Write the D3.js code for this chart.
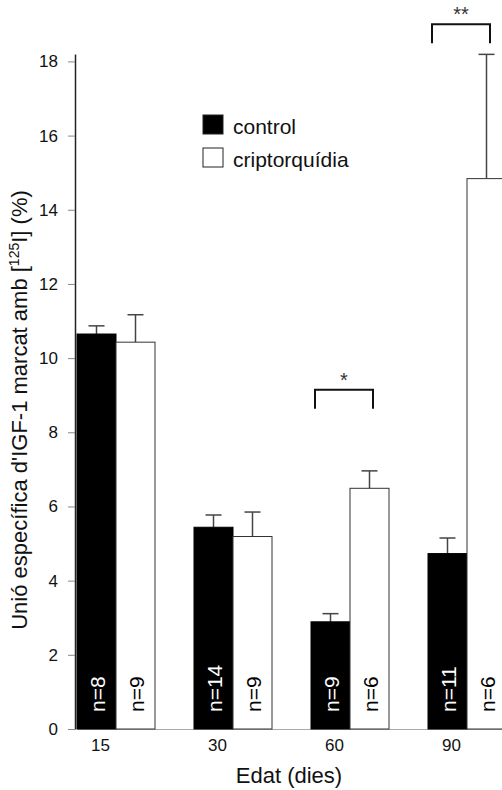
<!doctype html>
<html lang="en">
<head>
<meta charset="utf-8">
<title>IGF-1 binding by age</title>
<script src="https://d3js.org/d3.v7.min.js"></script>
<style>
  body { margin: 0; background: #fff; }
  svg text { font-family: 'Liberation Sans', Arial, Helvetica, sans-serif; }
</style>
</head>
<body>
<script>
// data
var ages = ['15', '30', '60', '90'];
var seriesNames = ['control', 'criptorquídia'];
var controlMeans = [10.65, 5.44, 2.89, 4.73];
var controlErr = [0.22, 0.33, 0.22, 0.42];
var controlN = [8, 14, 9, 11];
var criptMeans = [10.43, 5.19, 6.49, 14.84];
var criptErr = [0.74, 0.66, 0.47, 3.35];
var criptN = [9, 9, 6, 6];
var yTicks = [0, 2, 4, 6, 8, 10, 12, 14, 16, 18];
var sigAges = ['60', '90'];
var sigMarks = ['*', '**'];
var sigLevels = [9.15, 19.0];

var width = 502,
    height = 790;

var svg = d3.select('body')
  .append('svg')
  .attr('width', width)
  .attr('height', height);

var x = d3.scaleBand().domain(ages).range([77, 506]).paddingInner(1 / 3).paddingOuter(0);
var xSub = d3.scaleBand().domain(seriesNames).range([0, x.bandwidth()]);
var y = d3.scaleLinear().domain([0, 18.2]).range([729, 54]);

// build one row per bar
var bars = [];
ages.forEach(function(a, i) {
  bars.push({ age: a, s: seriesNames[0], v: controlMeans[i], e: controlErr[i], n: controlN[i] });
  bars.push({ age: a, s: seriesNames[1], v: criptMeans[i], e: criptErr[i], n: criptN[i] });
});

// x axis (light baseline, labels only)
var xAxis = svg.append('g')
  .attr('transform', 'translate(0,' + y(0) + ')')
  .call(d3.axisBottom(x).tickSize(0).tickSizeOuter(0).tickPadding(10));
xAxis.select('.domain').attr('stroke', '#aaa').attr('stroke-width', 1);
xAxis.selectAll('text')
  .attr('dx', 23.5 - x.bandwidth() / 2)
  .style('font-size', '17px')
  .attr('fill', '#111');

// error bars (upper only)
var err = svg.append('g').attr('stroke', '#444').attr('stroke-width', 1.5);
bars.forEach(function(d) {
  var cx = x(d.age) + xSub(d.s) + xSub.bandwidth() / 2;
  err.append('line').attr('x1', cx).attr('x2', cx).attr('y1', y(d.v)).attr('y2', y(d.v + d.e));
  err.append('line').attr('x1', cx - 8).attr('x2', cx + 8).attr('y1', y(d.v + d.e)).attr('y2', y(d.v + d.e));
});

// bars
svg.append('g').selectAll('rect')
  .data(bars)
  .enter()
  .append('rect')
  .attr('x', d => x(d.age) + xSub(d.s))
  .attr('y', d => y(d.v))
  .attr('width', xSub.bandwidth())
  .attr('height', d => y(0) - y(d.v))
  .attr('fill', d => d.s === seriesNames[0] ? '#000' : '#fff')
  .attr('stroke', d => d.s === seriesNames[0] ? '#000' : '#333')
  .attr('stroke-width', 1);

// n labels inside the bars
svg.append('g').selectAll('text')
  .data(bars)
  .enter()
  .append('text')
  .attr('transform', d => 'translate(' + (x(d.age) + xSub(d.s) + xSub.bandwidth() / 2 + 8) + ',712) rotate(-90)')
  .attr('fill', d => d.s === seriesNames[0] ? '#fff' : '#000')
  .style('font-size', '21px')
  .text(d => 'n=' + d.n);

// y axis
var yAxis = svg.append('g')
  .attr('transform', 'translate(75,0)')
  .call(d3.axisLeft(y).tickValues(yTicks).tickSize(7).tickSizeOuter(0).tickPadding(10));
yAxis.select('.domain').attr('stroke', '#222').attr('stroke-width', 1.5);
yAxis.selectAll('.tick line').attr('stroke', '#888');
yAxis.selectAll('text').style('font-size', '17px').attr('fill', '#111');

// significance brackets
sigAges.forEach(function(a, i) {
  var x0 = x(a) + 4, x1 = x(a) + 62, top = y(sigLevels[i]);
  svg.append('path')
    .attr('d', 'M' + x0 + ',' + (top + 19) + 'V' + top + 'H' + x1 + 'V' + (top + 19))
    .attr('fill', 'none')
    .attr('stroke', '#111')
    .attr('stroke-width', 2);
  svg.append('text')
    .attr('x', (x0 + x1) / 2)
    .attr('y', top - 3)
    .attr('text-anchor', 'middle')
    .style('font-size', '20px')
    .attr('fill', '#333')
    .text(sigMarks[i]);
});

// legend
var legend = svg.append('g').attr('transform', 'translate(203,115)');
seriesNames.forEach(function(s, i) {
  legend.append('rect')
    .attr('x', 0).attr('y', i * 33)
    .attr('width', 20).attr('height', 19)
    .attr('fill', i === 0 ? '#000' : '#fff')
    .attr('stroke', '#222').attr('stroke-width', 1);
  legend.append('text')
    .attr('x', 30).attr('y', i * 33 + 19)
    .style('font-size', '21px')
    .attr('fill', '#111')
    .text(s);
});

// axis titles
svg.append('text')
  .attr('x', 289).attr('y', 783)
  .attr('text-anchor', 'middle')
  .style('font-size', '22px')
  .attr('fill', '#111')
  .text('Edat (dies)');

var yt = svg.append('text')
  .attr('transform', 'translate(27,410) rotate(-90)')
  .attr('text-anchor', 'middle')
  .style('font-size', '22px')
  .attr('fill', '#111');
yt.append('tspan').text("Unió específica d'IGF-1 marcat amb [");
yt.append('tspan').attr('dy', -8).style('font-size', '14px').text('125');
yt.append('tspan').attr('dy', 8).text('I] (%)');
</script>
</body>
</html>
